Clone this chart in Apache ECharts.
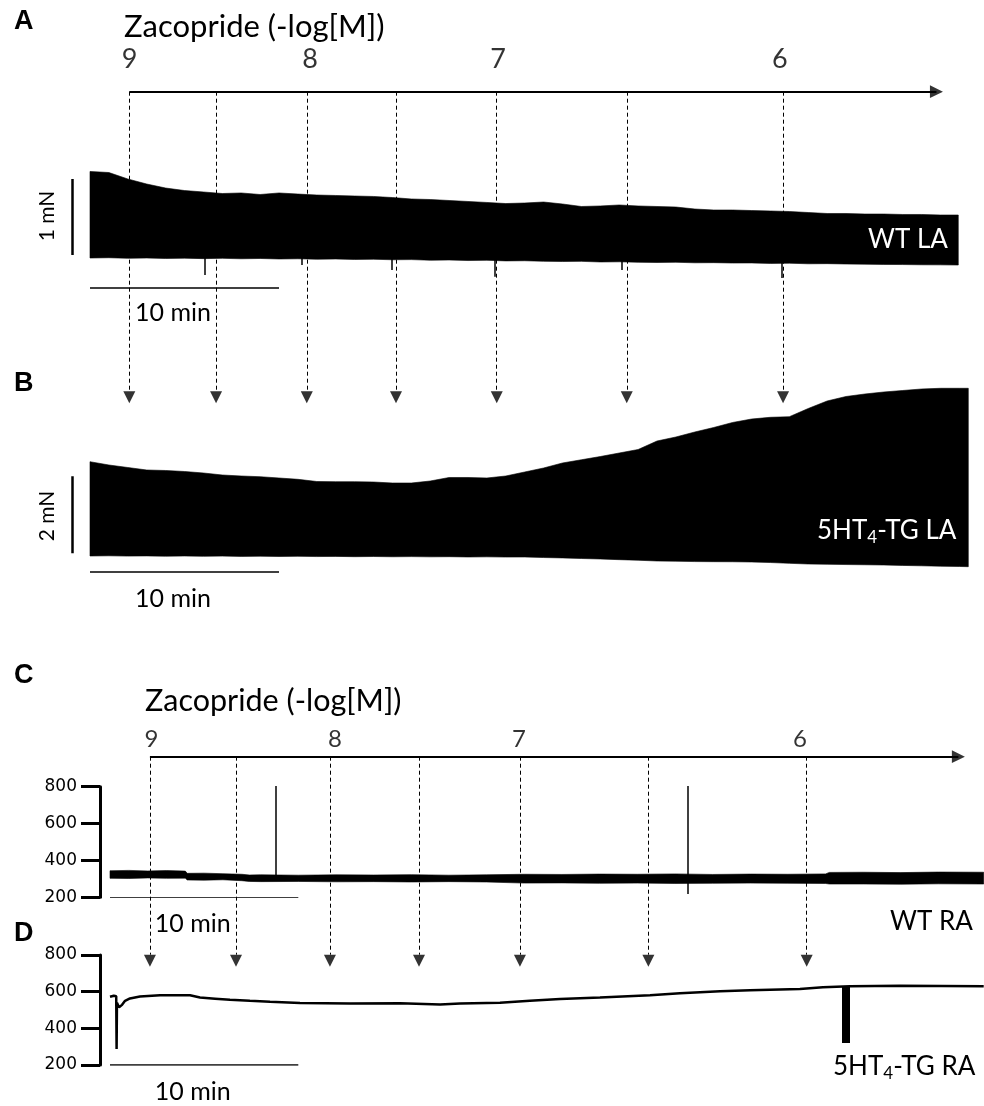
<!DOCTYPE html>
<html>
<head>
<meta charset="utf-8">
<script src="https://cdn.jsdelivr.net/npm/echarts@6.0.0/dist/echarts.min.js"></script>
<style>
html,body{margin:0;padding:0;background:#ffffff;}
#chart{width:984px;height:1106px;}
</style>
</head>
<body>
<div id="chart"></div>
<script>
// ================= DATA =================
const concLabels = ['9', '8', '7', '6'];               // Zacopride, -log[M]

// ---- panels A / B : time in minutes from trace start ----
const doseTimesAB  = [2.08, 6.67, 11.47, 16.19, 21.52, 28.4, 36.67];
const labelTimesAB = [2.1, 11.64, 21.59, 36.5];
const arrowEndAB   = 45.13;

// A: WT LA, force envelope (mN)
const timeA = [0,1,2,3,4,5,6,7,8,9,10,11,12,13,14,15,16,17,18,19,20,21,22,23,24,25,26,27,28,29,30,31,32,33,34,35,36,37,38,39,40,41,42,43,44,45,45.94];
const topA  = [1.165,1.151,1.066,1.0,0.947,0.914,0.895,0.875,0.882,0.862,0.882,0.868,0.855,0.849,0.842,0.836,0.822,0.803,0.796,0.783,0.770,0.757,0.743,0.75,0.763,0.737,0.704,0.711,0.724,0.711,0.704,0.697,0.671,0.658,0.658,0.651,0.645,0.638,0.625,0.612,0.612,0.605,0.605,0.599,0.599,0.592,0.592];
const botA  = [0.026,0.03,0.022,0.026,0.02,0.024,0.018,0.022,0.016,0.02,0.013,0.016,0.01,0.013,0.007,0.01,0.003,0.005,-0.003,0.0,-0.007,-0.004,-0.012,-0.01,-0.017,-0.02,-0.018,-0.026,-0.024,-0.03,-0.033,-0.03,-0.037,-0.035,-0.04,-0.039,-0.045,-0.042,-0.05,-0.048,-0.053,-0.055,-0.058,-0.06,-0.063,-0.064,-0.066];
const spikeTimesA = [6.08, 11.2, 15.98, 21.43, 28.13, 36.6];
const spikeLowA   = [-0.197, -0.066, -0.132, -0.22, -0.132, -0.237];

// B: 5HT4-TG LA, force envelope (mN)
const timeB = [0,1,2,3,4,5,6,7,8,9,10,11,12,13,14,15,16,17,18,19,20,21,22,23,24,25,26,27,28,29,30,31,32,33,34,35,36,37,38,39,40,41,42,43,44,45,46,46.47];
const topB  = [2.449,2.364,2.299,2.234,2.221,2.195,2.156,2.104,2.078,2.060,2.026,1.992,1.935,1.930,1.930,1.922,1.896,1.896,1.948,2.039,2.039,2.026,2.078,2.182,2.286,2.416,2.5,2.584,2.675,2.766,2.987,3.091,3.221,3.338,3.468,3.558,3.603,3.618,3.831,4.026,4.143,4.208,4.260,4.299,4.338,4.356,4.356,4.356];
const botB  = [0,0.005,-0.003,0.002,-0.005,0,-0.008,-0.003,-0.01,-0.005,-0.013,-0.008,-0.015,-0.01,-0.018,-0.013,-0.02,-0.016,-0.022,-0.018,-0.026,-0.022,-0.028,-0.026,-0.04,-0.05,-0.065,-0.078,-0.095,-0.11,-0.13,-0.135,-0.145,-0.148,-0.15,-0.156,-0.17,-0.19,-0.208,-0.215,-0.222,-0.228,-0.234,-0.245,-0.255,-0.265,-0.272,-0.278];

// ---- panels C / D : time in minutes, beating rate (beats/min) ----
const doseTimesCD  = [2.12, 6.69, 11.68, 16.41, 21.77, 28.59, 37.0];
const labelTimesCD = [2.2, 11.95, 21.72, 36.64];
const arrowEndCD   = 45.4;
const rateTicks    = [200, 400, 600, 800];

// C: WT RA, rate band
const timeC = [0,1,2,3,4,4.1,5,6,7,7.4,8,10,12,14,16,18,20,22,24,26,28,30,32,34,36,38,38.2,40,42,44,46.4];
const topC  = [344,346,343,345,342,330,331,328,325,321,322,320,322,321,323,320,322,325,324,326,325,327,324,326,325,327,335,336,334,337,336];
const botC  = [303,302,305,303,304,294,293,295,290,286,285,286,284,285,283,285,283,277,278,276,277,275,276,277,276,275,272,272,271,273,272];
const spikeTimesC = [8.82, 30.66];
const spikeHighC  = [881, 858];
const spikeLowC   = [318, 218];

// D: 5HT4-TG RA, rate trace
const timeD = [0,0.2,0.33,0.35,0.37,0.48,0.64,0.8,1.06,1.59,2.66,4.25,4.78,5.58,6.37,7.43,8.5,10.09,12.75,15.4,17.53,18.59,20.71,22.3,23.9,26.02,28.68,30.27,32.4,33.99,36.64,37.86,39.3,41.95,46.4];
const rateD = [572,578,575,287,540,515,528,550,563,574,581,580,568,562,556,550,545,538,536,537,530,536,540,550,560,568,580,592,602,608,614,624,630,632,630];
const barTimeD = 39.09, barLowD = 320, barHighD = 630;

// scale bars
const scaleMinutes = 10;
const scaleForceA = 1;   // mN
const scaleForceB = 2;   // mN

// ================= LAYOUT (pixels) =================
const PPM_AB = 18.9, X0_AB = 90;          // px per minute, x of t=0
const PPM_CD = 18.83, X0_CD = 110;
const AB_TMIN = -3, AB_TMAX = 47;
const CD_TMIN = -(X0_CD - 100) / PPM_CD, CD_TMAX = 46.5;
const HAB = {top: 91.7, h: 311.6};
const HCD = {top: 756.7, h: 210};

const gridAB = {left: X0_AB + AB_TMIN * PPM_AB, width: (AB_TMAX - AB_TMIN) * PPM_AB};
const gridCD = {left: 100, width: (CD_TMAX - CD_TMIN) * PPM_CD};

const grids = [
  Object.assign({top: HAB.top, height: HAB.h}, gridAB),               // 0 header A/B
  Object.assign({top: 157.4, height: 140.6}, gridAB),                 // 1 A
  Object.assign({top: 378.9, height: 215.6}, gridAB),                 // 2 B
  Object.assign({top: HCD.top, height: HCD.h}, gridCD),               // 3 header C/D
  Object.assign({top: 786.7, height: 110.6}, gridCD),                 // 4 C
  Object.assign({top: 955, height: 110}, gridCD)                      // 5 D
].map(g => Object.assign({outerBoundsMode: 'none', containLabel: false}, g));

function hx(i, min, max) { return {gridIndex: i, type: 'value', min: min, max: max, show: false}; }
const xAxes = [
  hx(0, AB_TMIN, AB_TMAX), hx(1, AB_TMIN, AB_TMAX), hx(2, AB_TMIN, AB_TMAX),
  hx(3, CD_TMIN, CD_TMAX), hx(4, CD_TMIN, CD_TMAX), hx(5, CD_TMIN, CD_TMAX)
];
function rateAxis(i) {
  return {
    gridIndex: i, type: 'value', min: rateTicks[0], max: rateTicks[rateTicks.length - 1],
    interval: rateTicks[1] - rateTicks[0], position: 'left',
    axisLine: {show: true, onZero: false, lineStyle: {color: '#000', width: 3}},
    axisTick: {show: true, inside: false, length: 19, lineStyle: {color: '#000', width: 3}},
    axisLabel: {show: true, color: '#000', fontFamily: 'DejaVu Sans', fontSize: 17, margin: 23},
    splitLine: {show: false}
  };
}
const yAxes = [
  hx(0, 0, 1), hx(1, -0.5, 1.35), hx(2, -1, 4.6),
  hx(3, 0, 1), rateAxis(4), rateAxis(5)
];

// ================= SERIES HELPERS =================
function segs(ax, list, width, dash) {
  return {
    type: 'lines', coordinateSystem: 'cartesian2d', xAxisIndex: ax, yAxisIndex: ax,
    silent: true, polyline: false, symbol: ['none', 'none'],
    data: list.map(c => ({coords: c})),
    lineStyle: {color: '#000', width: width, opacity: 1, type: dash || 'solid'}
  };
}
function headerSeries(ax, doses, labTimes, arrowEnd, hPx, ppm, labOff, labSize) {
  const headTop = 12 / hPx, headMid = 6 / hPx;
  const shaftEnd = arrowEnd - 6.5 / ppm;
  return [
    segs(ax, doses.map(t => [[t, 1], [t, headTop]]), 1, [4, 3]),
    {type: 'scatter', xAxisIndex: ax, yAxisIndex: ax, silent: true,
     data: doses.map(t => [t, headMid]), symbol: 'triangle', symbolSize: [12, 12], symbolRotate: 180,
     itemStyle: {color: '#000'}},
    segs(ax, [[[doses[0], 1], [shaftEnd, 1]]], 2),
    {type: 'scatter', xAxisIndex: ax, yAxisIndex: ax, silent: true,
     data: [[shaftEnd, 1]], symbol: 'triangle', symbolSize: [12.7, 13], symbolRotate: -90,
     itemStyle: {color: '#000'}},
    {type: 'scatter', xAxisIndex: ax, yAxisIndex: ax, silent: true,
     data: labTimes.map((t, i) => ({value: [t, 1], name: concLabels[i]})),
     symbol: 'circle', symbolSize: 1, itemStyle: {color: 'rgba(0,0,0,0)'},
     label: {show: true, position: 'inside', offset: [0, labOff], formatter: '{b}',
             color: '#000', fontFamily: 'Lato', fontSize: labSize}}
  ];
}
function bandSeries(ax, times, top, bot) {
  return {
    type: 'custom', xAxisIndex: ax, yAxisIndex: ax, silent: true, clip: false,
    data: times.map((t, i) => [t, top[i], bot[i]]),
    encode: {x: 0, y: [1, 2]},
    renderItem: function (params, api) {
      if (params.dataIndex !== 0) return null;
      const pts = [];
      for (let i = 0; i < times.length; i++) pts.push(api.coord([times[i], top[i]]));
      for (let i = times.length - 1; i >= 0; i--) pts.push(api.coord([times[i], bot[i]]));
      return {type: 'polygon', shape: {points: pts}, style: {fill: '#000', stroke: '#000', lineWidth: 0.6}};
    }
  };
}

const series = [].concat(
  headerSeries(0, doseTimesAB, labelTimesAB, arrowEndAB, HAB.h, PPM_AB, -32, 27),
  headerSeries(3, doseTimesCD, labelTimesCD, arrowEndCD, HCD.h, PPM_CD, -17.5, 24),
  // panel A
  [bandSeries(1, timeA, topA, botA),
   segs(1, spikeTimesA.map((t, i) => [[t, 0.15], [t, spikeLowA[i]]]), 1.5),
   segs(1, [[[-0.95, 0.066], [-0.95, 0.066 + scaleForceA]]], 2.5),
   segs(1, [[[0, -0.364], [scaleMinutes, -0.364]]], 1.5)],
  // panel B
  [bandSeries(2, timeB, topB, botB),
   segs(2, [[[-0.95, 0.07], [-0.95, 0.07 + scaleForceB]]], 2.5),
   segs(2, [[[0, -0.408], [scaleMinutes, -0.408]]], 1.5)],
  // panel C
  [bandSeries(4, timeC, topC, botC),
   segs(4, spikeTimesC.map((t, i) => [[t, spikeLowC[i]], [t, spikeHighC[i]]]), 1.5),
   segs(4, [[[0, rateTicks[0]], [scaleMinutes, rateTicks[0]]]], 1.5)],
  // panel D
  [{type: 'line', xAxisIndex: 5, yAxisIndex: 5, silent: true, symbol: 'none', clip: false,
    data: timeD.map((t, i) => [t, rateD[i]]), lineStyle: {color: '#000', width: 2.5}},
   segs(5, [[[barTimeD, barLowD], [barTimeD, barHighD]]], 8),
   segs(5, [[[0, rateTicks[0]], [scaleMinutes, rateTicks[0]]]], 1.5)]
);

// ================= TEXT =================
function txt(text, x, y, size, opts) {
  opts = opts || {};
  const style = {
    text: text, fill: opts.fill || '#000',
    font: (opts.weight || 'normal') + ' ' + size + 'px ' + (opts.family || 'Lato'),
    align: opts.align || 'left', verticalAlign: 'middle',
    textAlign: opts.align || 'left', textVerticalAlign: 'middle'
  };
  if (opts.rich) style.rich = opts.rich;
  return {type: 'text', x: x, y: y, z: 100, zlevel: 0, rotation: opts.rotation || 0, silent: true, style: style};
}
function subRich(fill) {
  return {
    n: {fontFamily: 'Lato', fontSize: 26, lineHeight: 30, color: fill, fill: fill},
    s: {fontFamily: 'Lato', fontSize: 17, lineHeight: 17, verticalAlign: 'bottom', color: fill, fill: fill}
  };
}
const letterOpts = {weight: 'bold', family: '"Liberation Sans", Arial'};
const texts = [
  txt('A', 14, 22, 27, letterOpts),
  txt('B', 14, 384, 27, letterOpts),
  txt('C', 14, 676, 27, letterOpts),
  txt('D', 14, 934, 27, letterOpts),
  txt('Zacopride (-log[M])', 124, 27, 31),
  txt('Zacopride (-log[M])', 145, 701, 30.5),
  txt('10 min', 173, 313, 25, {align: 'center'}),
  txt('10 min', 173, 599, 25, {align: 'center'}),
  txt('10 min', 192.7, 924, 25, {align: 'center'}),
  txt('10 min', 192.7, 1092, 25, {align: 'center'}),
  txt('1 mN', 47, 216, 21, {align: 'center', rotation: Math.PI / 2}),
  txt('2 mN', 47, 516, 21, {align: 'center', rotation: Math.PI / 2}),
  txt('WT LA', 868, 240, 26, {fill: '#fff'}),
  txt('{n|5HT}{s|4}{n|-TG LA}', 817, 531, 26, {fill: '#fff', rich: subRich('#fff')}),
  txt('WT RA', 890, 922, 26),
  txt('{n|5HT}{s|4}{n|-TG RA}', 833, 1067, 26, {rich: subRich('#000')})
];

const chart = echarts.init(document.getElementById('chart'), null, {renderer: 'canvas', width: 984, height: 1106});
chart.setOption({
  backgroundColor: '#ffffff',
  animation: false,
  grid: grids,
  xAxis: xAxes,
  yAxis: yAxes,
  series: series,
  graphic: {elements: texts}
});
</script>
</body>
</html>
